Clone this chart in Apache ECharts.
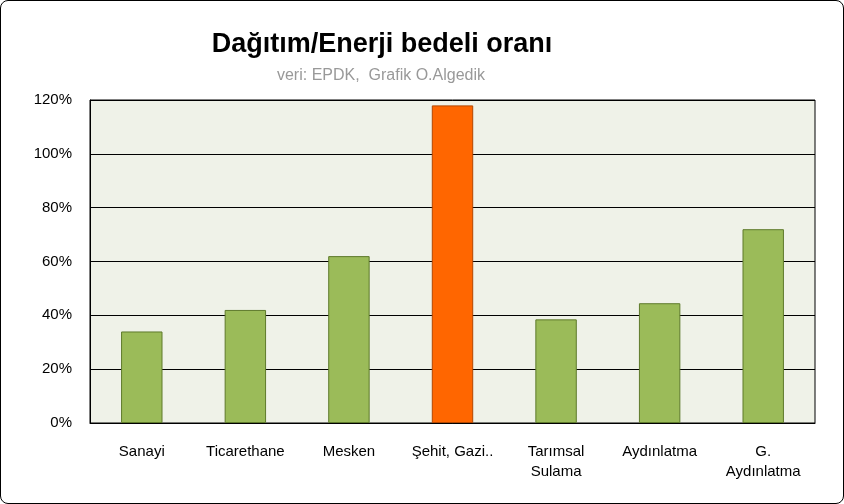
<!DOCTYPE html>
<html><head><meta charset="utf-8">
<script src="https://cdn.jsdelivr.net/npm/echarts@6/dist/echarts.min.js"></script>
<style>html,body{margin:0;padding:0;background:#fff}#c{width:844px;height:504px;box-sizing:border-box;border:1.5px solid #000;border-radius:8px;overflow:hidden}</style>
</head><body><div id="c"></div>
<script>
const categories = ["Sanayi","Ticarethane","Mesken","Şehit, Gazi..","Tarımsal\nSulama","Aydınlatma","G.\nAydınlatma"];
const values = [34, 42, 62, 118, 38.5, 44.5, 72];
const highlightIndex = 3;
const chart = echarts.init(document.getElementById('c'));
chart.setOption({
  animation:false,
  title:[{text:'Dağıtım/Enerji bedeli oranı',left:376,top:25,textAlign:'center',textStyle:{fontFamily:'Liberation Sans',fontSize:27,fontWeight:'bold',color:'#000'}},
         {text:'veri: EPDK,  Grafik O.Algedik',left:375,top:62,textAlign:'center',textStyle:{fontFamily:'Liberation Sans',fontSize:16,fontWeight:'normal',color:'#999'}}],
  grid:{left:89,right:28,top:99,bottom:80,show:true,backgroundColor:'#eff2e8',borderColor:'#000',borderWidth:1},
  xAxis:{type:'category',data:categories,axisTick:{show:false},axisLine:{lineStyle:{color:'#000'}},
    axisLabel:{color:'#000',fontSize:15,fontFamily:'Liberation Sans',margin:19,lineHeight:20,interval:0}},
  yAxis:{type:'value',min:0,max:120,interval:20,axisLine:{show:true,lineStyle:{color:'#000'}},axisTick:{show:false},
    splitLine:{lineStyle:{color:'#000',width:1}},
    axisLabel:{formatter:'{value}%',color:'#000',fontSize:15,fontFamily:'Liberation Sans',margin:18}},
  series:[{type:'bar',barWidth:'40%',data:values.map((v,i)=>({value:v,itemStyle:i===highlightIndex?{color:'#ff6600',borderColor:'#b34700',borderWidth:1}:{color:'#9bbb59',borderColor:'#5e7a2b',borderWidth:1}}))}]
});
</script></body></html>
